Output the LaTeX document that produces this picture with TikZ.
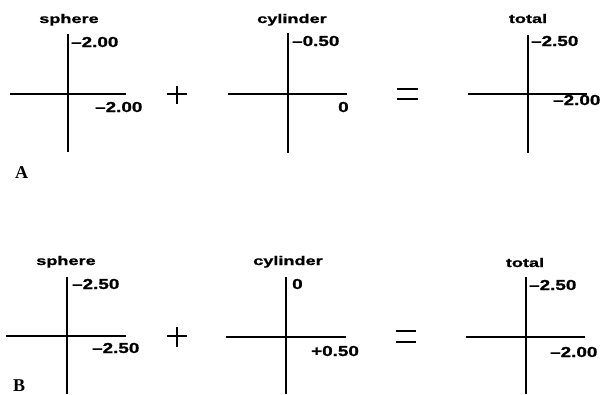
\documentclass[tikz,border=0pt]{standalone}
\usepackage{fontspec}
\newfontfamily\labfont{Liberation Sans}[FakeStretch=1.45,FakeBold=1]
\newfontfamily\numfont{Liberation Sans}[FakeStretch=1.3,FakeBold=1]
\newfontfamily\partfont{Liberation Serif}
\begin{document}
\begin{tikzpicture}[x=1pt,y=-1pt,
  axis/.style={line width=1.6pt},
  sym/.style={line width=1.5pt},
  lab/.style={anchor=base,inner sep=0pt,font=\labfont\bfseries\fontsize{12.5}{14}\selectfont},
  num/.style={anchor=base west,inner sep=0pt,font=\numfont\bfseries\fontsize{14.5}{16}\selectfont},
  part/.style={anchor=base west,inner sep=0pt,font=\partfont\bfseries\fontsize{18}{20}\selectfont}]
\useasboundingbox (0,0) rectangle (603,394);
% ---------- Panel A ----------
% sphere
\draw[axis] (68,34) -- (68,152);
\draw[axis] (10,94) -- (126,94);
\node[lab] (sA) at (69,23) {sphere};
\node[num] (sAv) at (71,47) {\textendash2.00};
\node[num] (sAh) at (95,112) {\textendash2.00};
% plus
\draw[sym] (167,94) -- (187,94);
\draw[sym] (177,86) -- (177,104);
% cylinder
\draw[axis] (288,33) -- (288,153);
\draw[axis] (228,94) -- (347,94);
\node[lab] (cA) at (292,23) {cylinder};
\node[num] (cAv) at (292,46) {\textendash0.50};
\node[num] (cAh) at (338,112) {0};
% equals
\draw[sym,line width=1.8pt] (397,89) -- (418,89);
\draw[sym,line width=1.8pt] (397,99) -- (418,99);
% total
\draw[axis] (528,35) -- (528,153);
\draw[axis] (468,94) -- (587,94);
\node[lab] (tA) at (528,23) {total};
\node[num] (tAv) at (531,46) {\textendash2.50};
\node[num] (tAh) at (553,105) {\textendash2.00};
\node[part] (A) at (15,178) {A};
% ---------- Panel B ----------
% sphere
\draw[axis] (67,277) -- (67,394);
\draw[axis] (6,336) -- (126,336);
\node[lab] (sB) at (66,265) {sphere};
\node[num] (sBv) at (72,289) {\textendash2.50};
\node[num] (sBh) at (92,353) {\textendash2.50};
% plus
\draw[sym] (167,336) -- (187,336);
\draw[sym] (177,327) -- (177,347);
% cylinder
\draw[axis] (286,277) -- (286,394);
\draw[axis] (226,337) -- (346,337);
\node[lab] (cB) at (288,265) {cylinder};
\node[num] (cBv) at (292,289) {0};
\node[num] (cBh) at (311,356) {+0.50};
% equals
\draw[sym,line width=1.8pt] (396,331) -- (416,331);
\draw[sym,line width=1.8pt] (396,342) -- (416,342);
% total
\draw[axis] (526,277) -- (526,394);
\draw[axis] (466,337) -- (585,337);
\node[lab] (tB) at (525,267) {total};
\node[num] (tBv) at (529,290) {\textendash2.50};
\node[num] (tBh) at (550,357) {\textendash2.00};
\node[part] (B) at (13,391) {B};
\end{tikzpicture}
\end{document}
